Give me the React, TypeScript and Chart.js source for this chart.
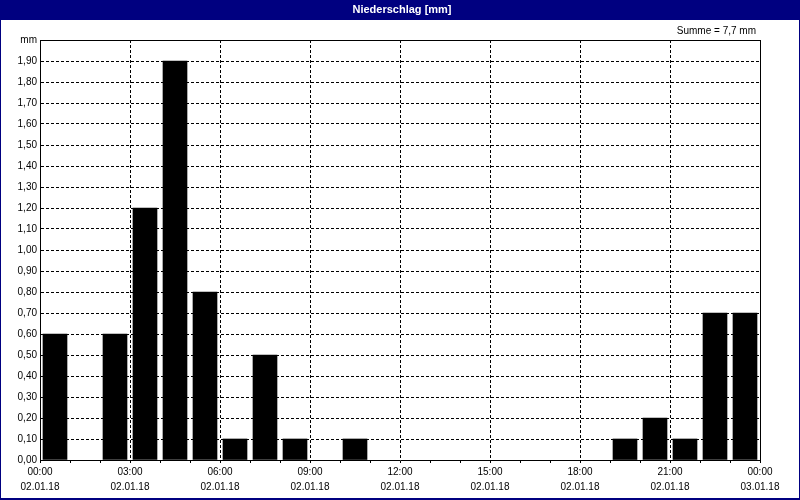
import React, { useEffect, useRef } from "react";
import { Chart, registerables } from "chart.js";

Chart.register(...registerables);

const titleText = "Niederschlag [mm]";
const sumText = "Summe = 7,7 mm";
const yUnit = "mm";

// hour of day (start of the hourly interval) and precipitation in mm
const hours = [0, 2, 3, 4, 5, 6, 7, 8, 10, 19, 20, 21, 22, 23];
const precip = [0.6, 0.6, 1.2, 1.9, 0.8, 0.1, 0.5, 0.1, 0.1, 0.1, 0.2, 0.1, 0.7, 0.7];

// labels for every third hour (0..24)
const xTimeLabels = ["00:00", "03:00", "06:00", "09:00", "12:00", "15:00", "18:00", "21:00", "00:00"];
const xDateLabels = ["02.01.18", "02.01.18", "02.01.18", "02.01.18", "02.01.18", "02.01.18", "02.01.18", "02.01.18", "03.01.18"];

const NAVY = "#000080";
const FONT = "'Liberation Sans', Arial, sans-serif";

const framePlugin = {
  id: "frame",
  beforeDraw(chart: any) {
    const { ctx, width, height } = chart;
    ctx.save();
    ctx.fillStyle = "#fff";
    ctx.fillRect(0, 0, width, height);
    ctx.fillStyle = NAVY;
    ctx.fillRect(0, 0, width, 20);
    ctx.strokeStyle = NAVY;
    ctx.lineWidth = 1;
    ctx.strokeRect(0.5, 0.5, width - 1, height - 1);
    ctx.fillRect(0, height - 2, width, 2);
    ctx.fillStyle = "#fff";
    ctx.font = `bold 11px ${FONT}`;
    ctx.textAlign = "center";
    ctx.textBaseline = "middle";
    ctx.fillText(titleText, width / 2 + 2, 10);
    ctx.fillStyle = "#000";
    ctx.font = `10px ${FONT}`;
    ctx.textAlign = "right";
    ctx.fillText(sumText, chart.chartArea.right - 4, 31);
    ctx.restore();
  },
  afterDraw(chart: any) {
    const { ctx, chartArea } = chart;
    ctx.save();
    ctx.strokeStyle = "#000";
    ctx.lineWidth = 1;
    ctx.setLineDash([]);
    ctx.beginPath();
    ctx.moveTo(chartArea.left, Math.round(chartArea.top) + 0.5);
    ctx.lineTo(chartArea.right + 1, Math.round(chartArea.top) + 0.5);
    ctx.moveTo(Math.round(chartArea.right) + 0.5, chartArea.top);
    ctx.lineTo(Math.round(chartArea.right) + 0.5, chartArea.bottom);
    ctx.stroke();
    ctx.restore();
  },
};

export default function App() {
  const ref = useRef<HTMLCanvasElement | null>(null);

  useEffect(() => {
    document.body.style.margin = "0";
    if (!ref.current) return;
    const chart = new Chart(ref.current, {
      type: "bar",
      data: {
        datasets: [
          {
            label: titleText,
            data: hours.map((h, i) => ({ x: h + 0.5, y: precip[i] })),
            backgroundColor: "#000",
            borderWidth: 0,
            barThickness: 24,
          },
        ],
      },
      options: {
        animation: false,
        responsive: false,
        devicePixelRatio: 1,
        layout: { padding: { top: 40, right: 40, bottom: 0, left: 0 } },
        plugins: {
          legend: { display: false },
          tooltip: { enabled: false },
          title: { display: false },
        },
        scales: {
          x: {
            type: "linear",
            min: 0,
            max: 24,
            offset: false,
            afterFit: (s: any) => {
              s.height = 40;
            },
            ticks: {
              stepSize: 1,
              autoSkip: false,
              maxRotation: 0,
              padding: 2,
              color: "#000",
              font: { family: FONT, size: 10, lineHeight: 1.5 },
              callback: (v: any) => {
                const n = Number(v);
                if (n % 3 !== 0) return "";
                const k = n / 3;
                return [xTimeLabels[k], xDateLabels[k]];
              },
            },
            grid: {
              offset: false,
              color: (c: any) =>
                c.tick && c.tick.value % 3 === 0 ? "#000" : "rgba(0,0,0,0)",
              tickColor: "#000",
              tickLength: 3,
              lineWidth: 1,
            },
            border: { display: true, color: "#000", width: 1, dash: [3, 2] },
          },
          y: {
            type: "linear",
            min: 0,
            max: 2,
            afterFit: (s: any) => {
              s.width = 40;
            },
            ticks: {
              stepSize: 0.1,
              padding: 3,
              color: "#000",
              font: { family: FONT, size: 10 },
              callback: (v: any) => {
                const n = Number(v);
                if (n > 1.95) return yUnit;
                return n.toFixed(2).replace(".", ",");
              },
            },
            grid: {
              color: "#000",
              drawTicks: false,
              lineWidth: 1,
            },
            border: { display: true, color: "#000", width: 1, dash: [3, 2] },
          },
        },
      },
      plugins: [framePlugin],
    });
    return () => chart.destroy();
  }, []);

  return (
    <div style={{ width: 800, height: 500 }}>
      <canvas ref={ref} width={800} height={500} style={{ display: "block" }} />
    </div>
  );
}
